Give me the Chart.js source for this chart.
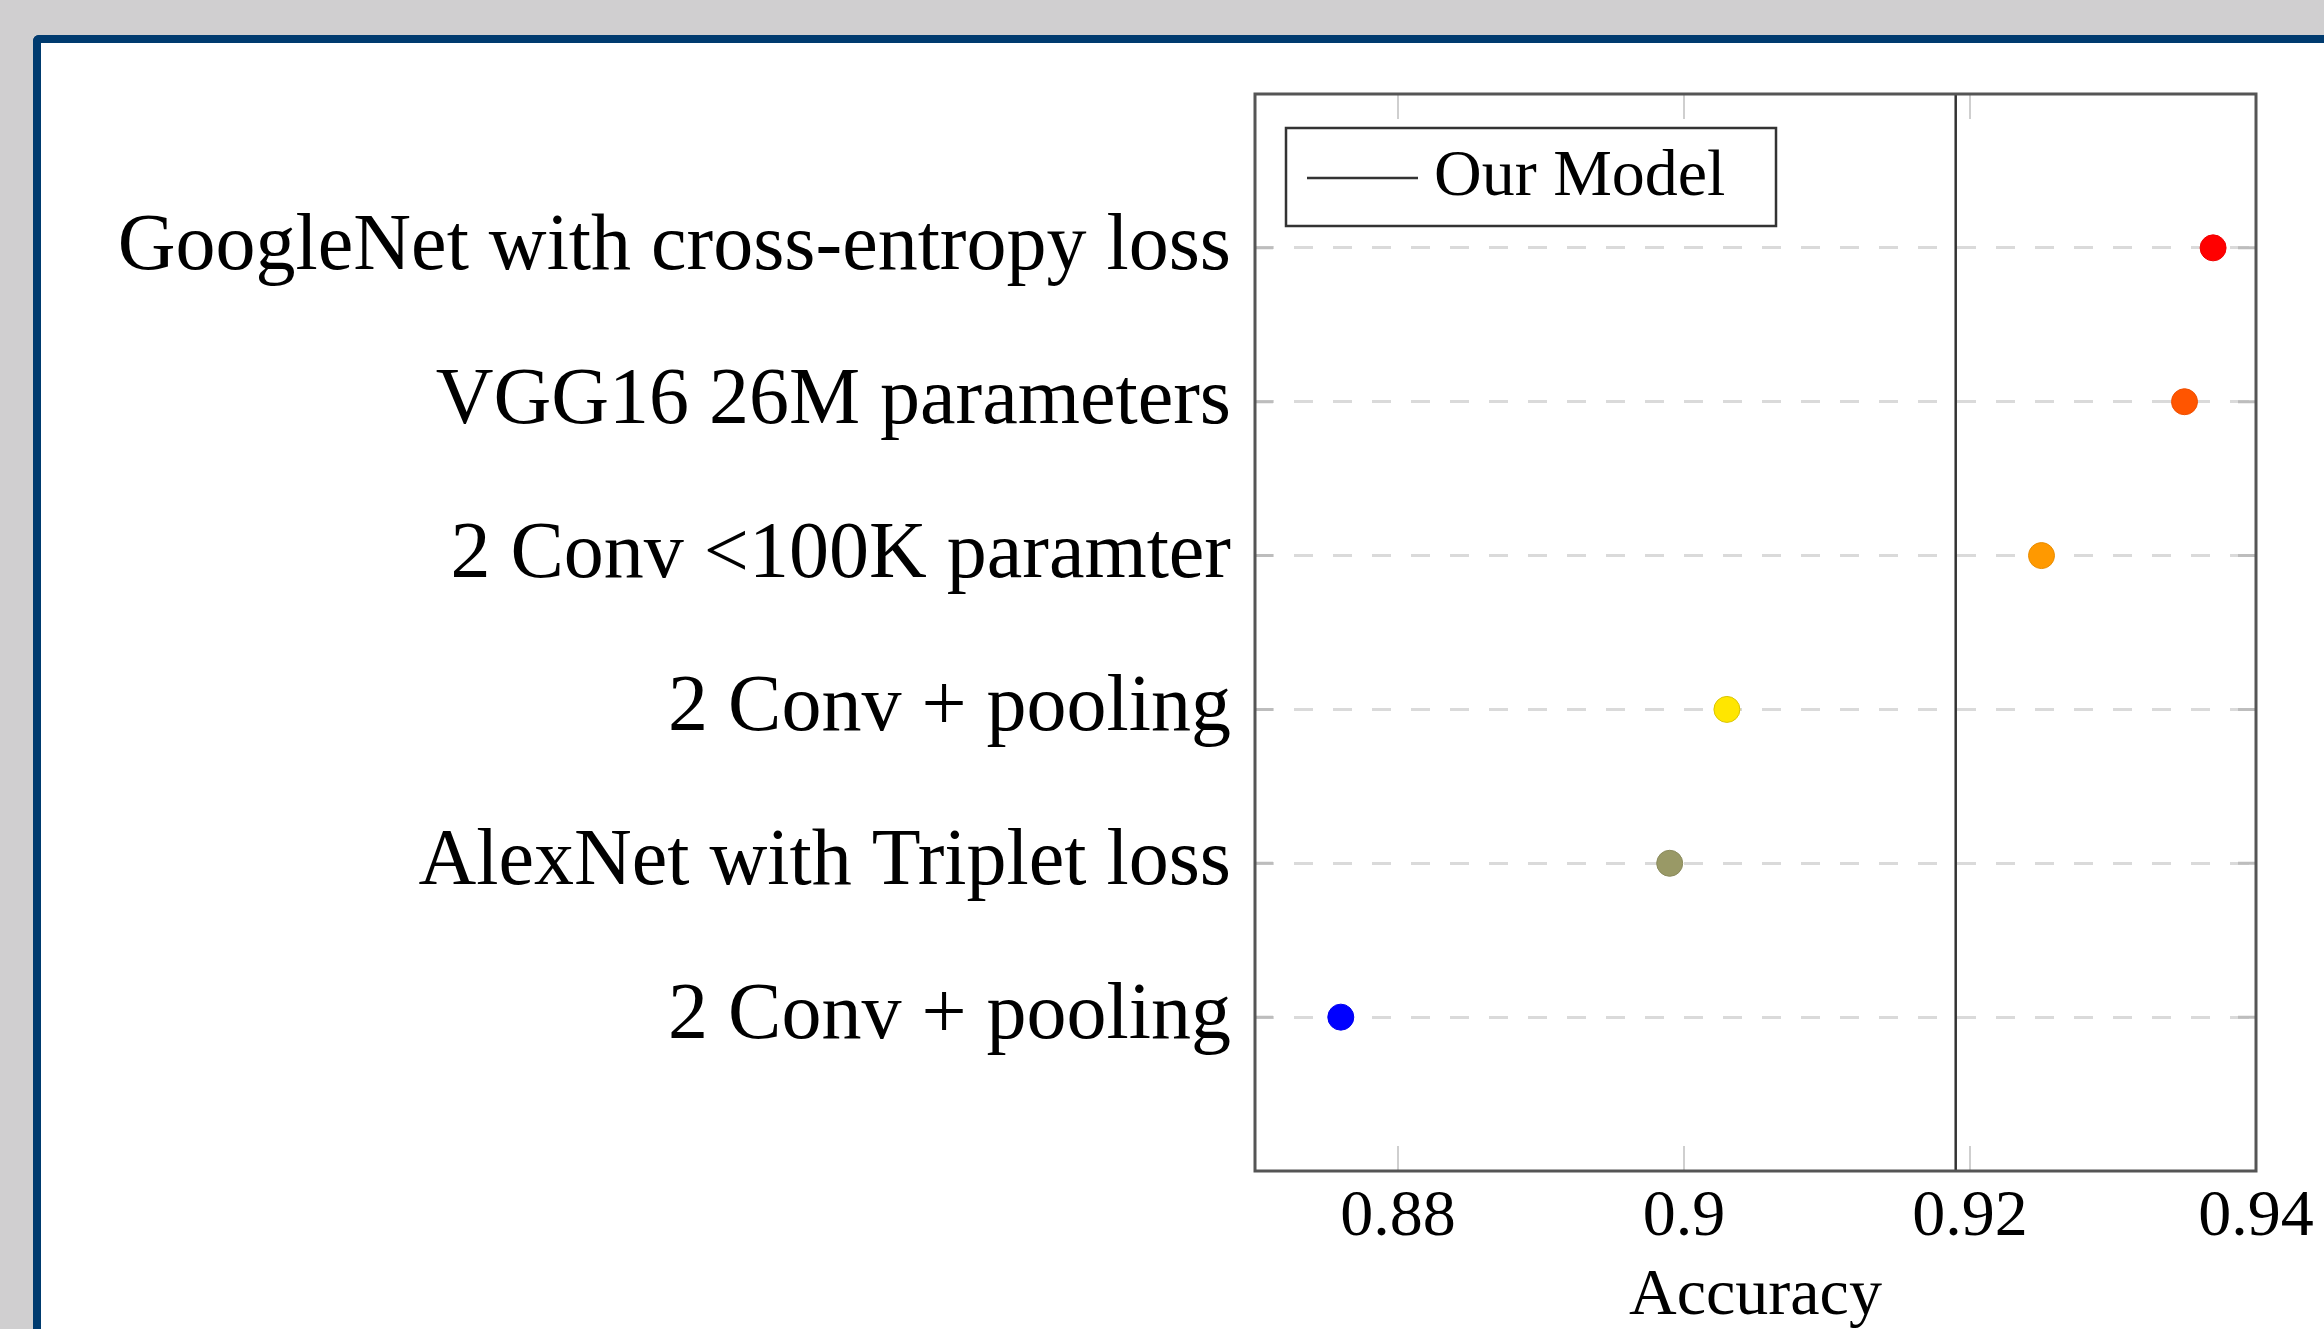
<!DOCTYPE html>
<html>
<head>
<meta charset="utf-8">
<script src="https://cdn.jsdelivr.net/npm/chart.js@4.4.0/dist/chart.umd.min.js"></script>
<style>
  html, body { margin: 0; padding: 0; width: 2324px; height: 1329px; overflow: hidden; background: #d0cfd0; }
  .panel { position: absolute; left: 33px; top: 35px; width: 2400px; height: 1400px;
           background: #fff; border-left: 8px solid #003b6f; border-top: 8px solid #003b6f; border-top-left-radius: 6px; }
  #chart { position: absolute; left: 0; top: 0; }
</style>
</head>
<body>
<div class="panel"></div>
<canvas id="chart" width="2324" height="1329"></canvas>
<script>
// models, top to bottom
const models = [
  "GoogleNet with cross-entropy loss",
  "VGG16 26M parameters",
  "2 Conv <100K paramter",
  "2 Conv + pooling",
  "AlexNet with Triplet loss",
  "2 Conv + pooling"
];
const accuracy = [0.937, 0.935, 0.925, 0.903, 0.899, 0.876];
const dotColors = ["#ff0000", "#ff5500", "#ff9900", "#ffe600", "#999966", "#0000ff"];
const dotBorders = ["#ee0000", "#ee4f00", "#e88c00", "#d9c400", "#8a8a5c", "#0000ee"];
const ourModel = 0.919;
const xTicks = [0.88, 0.9, 0.92, 0.94];

const serif = "'Liberation Serif', 'DejaVu Serif', serif";

// pgfplots-like frame, inner tick marks and boxed legend
const framePlugin = {
  id: 'frame',
  afterDatasetsDraw(chart) {
    const { ctx, chartArea: a, scales } = chart;
    ctx.save();
    ctx.strokeStyle = '#cfcfcf';
    ctx.lineWidth = 2;
    xTicks.forEach(v => {
      const px = scales.x.getPixelForValue(v);
      ctx.beginPath();
      ctx.moveTo(px, a.top); ctx.lineTo(px, a.top + 25);
      ctx.moveTo(px, a.bottom); ctx.lineTo(px, a.bottom - 25);
      ctx.stroke();
    });
    ctx.strokeStyle = '#bdbdbd';
    ctx.lineWidth = 3;
    models.forEach((m, i) => {
      const py = scales.y.getPixelForValue(i + 1);
      ctx.beginPath();
      ctx.moveTo(a.left, py); ctx.lineTo(a.left + 18, py);
      ctx.moveTo(a.right, py); ctx.lineTo(a.right - 18, py);
      ctx.stroke();
    });
    ctx.strokeStyle = '#555';
    ctx.lineWidth = 3;
    ctx.strokeRect(a.left, a.top, a.right - a.left, a.bottom - a.top);

    // legend for the "Our Model" line
    const ds = chart.data.datasets[0];
    const lx = a.left + 31, ly = a.top + 34;
    ctx.fillStyle = '#fff';
    ctx.fillRect(lx, ly, 490, 98);
    ctx.strokeStyle = '#333';
    ctx.lineWidth = 2.5;
    ctx.strokeRect(lx, ly, 490, 98);
    ctx.strokeStyle = ds.borderColor;
    ctx.lineWidth = ds.borderWidth;
    ctx.beginPath();
    ctx.moveTo(lx + 21, ly + 50); ctx.lineTo(lx + 132, ly + 50);
    ctx.stroke();
    ctx.fillStyle = '#000';
    ctx.font = '66px ' + serif;
    ctx.textBaseline = 'alphabetic';
    ctx.fillText(ds.label, lx + 148, ly + 67);
    ctx.restore();
  }
};

new Chart(document.getElementById('chart'), {
  type: 'scatter',
  data: {
    datasets: [
      {
        label: 'Our Model',
        type: 'line',
        data: [{ x: ourModel, y: 0 }, { x: ourModel, y: models.length + 1 }],
        borderColor: '#333',
        borderWidth: 2.5,
        pointRadius: 0
      },
      {
        label: 'models',
        data: accuracy.map((v, i) => ({ x: v, y: i + 1 })),
        pointRadius: 13,
        pointHoverRadius: 13,
        pointBackgroundColor: dotColors,
        pointBorderColor: dotBorders,
        pointBorderWidth: 1
      }
    ]
  },
  options: {
    responsive: false,
    animation: false,
    layout: { padding: { left: 0, right: 68, top: 94, bottom: 0 } },
    plugins: {
      tooltip: { enabled: false },
      legend: { display: false }
    },
    scales: {
      x: {
        type: 'linear',
        min: 0.87,
        max: 0.94,
        afterBuildTicks: s => { s.ticks = xTicks.map(v => ({ value: v })); },
        afterFit: s => { s.height = 158; },
        grid: { display: false, drawTicks: false },
        border: { display: false },
        ticks: {
          color: '#000',
          padding: 7,
          font: { family: serif, size: 66 },
          callback: v => String(v)
        },
        title: {
          display: true,
          text: 'Accuracy',
          color: '#000',
          padding: { top: 0, bottom: -7 },
          font: { family: serif, size: 66 }
        }
      },
      y: {
        type: 'linear',
        min: 0,
        max: models.length + 1,
        reverse: true,
        afterFit: s => { s.width = 1255; },
        grid: {
          drawTicks: false,
          lineWidth: 3,
          borderDash: [19, 20],
          color: c => (c.tick && c.tick.value >= 1 && c.tick.value <= models.length) ? '#dadada' : 'rgba(0,0,0,0)'
        },
        border: { display: false, dash: [19, 20] },
        ticks: {
          stepSize: 1,
          padding: 24,
          color: '#000',
          font: { family: serif, size: 80 },
          callback: v => (v >= 1 && v <= models.length) ? models[v - 1] : ''
        }
      }
    }
  },
  plugins: [framePlugin]
});
</script>
</body>
</html>
